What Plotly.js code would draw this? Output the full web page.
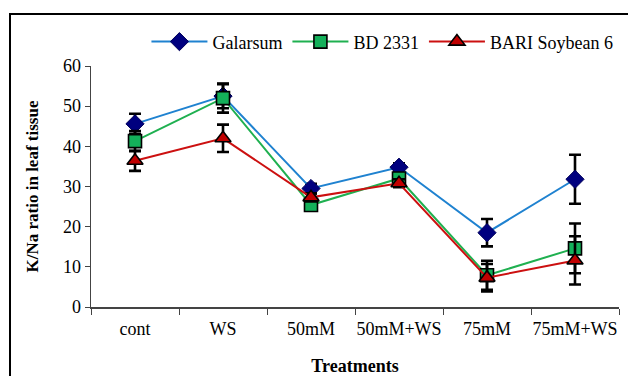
<!DOCTYPE html>
<html><head><meta charset="utf-8">
<script src="https://cdn.plot.ly/plotly-3.0.1.min.js"></script>
<style>
html,body{margin:0;padding:0;background:#fff;overflow:hidden}
#frame{position:absolute;left:9px;top:13px;width:640px;height:400px;border:2px solid #000;box-sizing:border-box;pointer-events:none;z-index:5}
#chart{position:absolute;left:0;top:0;width:628px;height:376px}
</style></head>
<body>
<div id="chart"></div>
<div id="frame"></div>
<script>
const categories = ["cont","WS","50mM","50mM+WS","75mM","75mM+WS"];
const galarsum = [45.6, 52.5, 29.5, 34.8, 18.5, 31.8];
const galarsumErr = [2.5, 3.0, 1.2, 1.0, 3.4, 6.1];
const bd2331 = [41.3, 52.0, 25.4, 32.0, 7.9, 14.6];
const bd2331Err = [2.5, 3.6, 1.2, 1.2, 3.6, 6.2];
const bari = [36.4, 42.0, 27.3, 30.8, 7.3, 11.6];
const bariErr = [2.5, 3.4, 1.0, 1.0, 3.4, 6.0];
const seriesNames = ["Galarsum","BD 2331","BARI Soybean 6"];

function err(a){return {type:'data', array:a, visible:true, color:'#000', thickness:2.6, width:6};}
const serif = "'Liberation Serif', 'Times New Roman', serif";
const traces = [
 {x:categories, y:galarsum, error_y:err(galarsumErr), name:seriesNames[0], mode:'lines+markers',
  line:{color:'#1f82d0', width:2}, marker:{symbol:'diamond', size:14, color:'#00007f', line:{color:'#00005a', width:1}}},
 {x:categories, y:bd2331, error_y:err(bd2331Err), name:seriesNames[1], mode:'lines+markers',
  line:{color:'#1fb050', width:2}, marker:{symbol:'square', size:13, color:'#14b05a', line:{color:'#000', width:1.6}}},
 {x:categories, y:bari, error_y:err(bariErr), name:seriesNames[2], mode:'lines+markers',
  line:{color:'#cc1010', width:2}, marker:{symbol:'triangle-up', size:14, color:'#c00000', line:{color:'#000', width:1.6}}}
];
const layout = {
 width:628, height:376,
 margin:{l:91, r:9, t:66, b:69},
 paper_bgcolor:'#fff', plot_bgcolor:'#fff',
 font:{family:serif, size:17, color:'#000'},
 showlegend:true,
 legend:{orientation:'h', x:0.105, xanchor:'left', y:1.1, yanchor:'middle', font:{family:serif, size:18, color:'#000'}, tracegroupgap:0, itemwidth:56, bgcolor:'rgba(0,0,0,0)'},
 xaxis:{type:'category', range:[-0.5,5.5], showline:true, linecolor:'#444', linewidth:1.5, ticks:'outside', tickson:'boundaries', ticklen:6, tickcolor:'#444', showgrid:false, zeroline:false,
   tickangle:0, ticklabelstandoff:5, tickfont:{family:serif, size:18, color:'#000'},
   title:{text:'<b>Treatments</b>', font:{family:serif, size:18, color:'#000'}, standoff:24}},
 yaxis:{range:[0,60], dtick:10, showline:true, linecolor:'#444', linewidth:1.5, ticks:'outside', ticklen:5, tickcolor:'#444', showgrid:false, zeroline:false,
   tickfont:{family:serif, size:18, color:'#000'},
   title:{text:'<b>K/Na ratio in leaf tissue</b>', font:{family:serif, size:17, color:'#000'}, standoff:20}}
};
Plotly.newPlot('chart', traces, layout, {displayModeBar:false, staticPlot:true});
</script>
</body></html>
